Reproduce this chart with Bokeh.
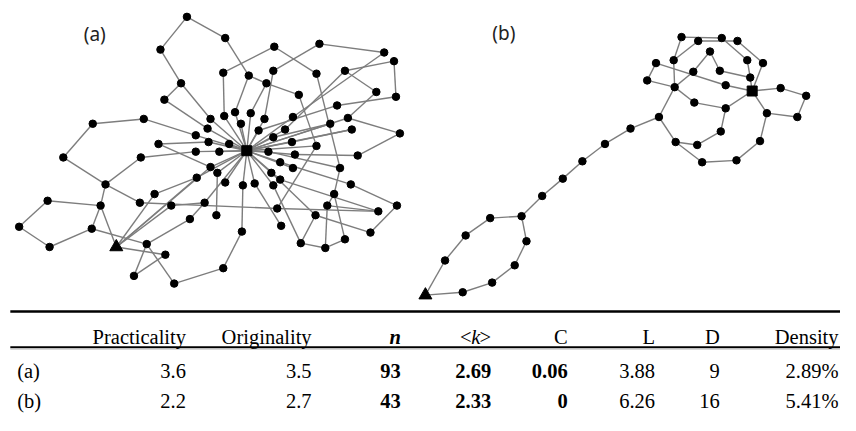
from bokeh.plotting import figure
from bokeh.models import Range1d
from bokeh.embed import file_html
from bokeh.resources import INLINE
from bokeh.core.properties import value

# ---------------- Network (a): node positions (picture coordinates) ----------------
a_nodes = {
    1: (190, 17), 2: (229, 39), 3: (163, 51), 4: (279, 48), 5: (325, 45), 6: (391, 54),
    7: (401, 63), 8: (227, 75), 9: (253, 78), 10: (278, 73), 11: (322, 76), 12: (351, 73),
    13: (271, 86), 14: (184, 86), 15: (167, 103), 16: (304, 98), 17: (383, 95), 18: (403, 100),
    19: (343, 109), 20: (228, 120), 21: (239, 116), 22: (255, 117), 23: (214, 123), 24: (269, 123),
    25: (298, 121), 26: (354, 122), 27: (146, 123), 28: (94, 128), 29: (211, 133), 30: (245, 128),
    31: (263, 135), 32: (290, 134), 33: (336, 128), 34: (358, 134), 35: (199, 140), 36: (212, 147),
    37: (233, 149), 38: (278, 142), 39: (297, 147), 40: (407, 138), 41: (161, 149), 42: (322, 151),
    43: (199, 157), 44: (223, 157), 45: (273, 157), 46: (300, 160), 47: (364, 161), 48: (64, 163),
    49: (143, 163), 50: (285, 168), 51: (214, 173), 52: (298, 174), 53: (346, 174), 54: (221, 179),
    55: (276, 179), 56: (200, 184), 57: (285, 186), 58: (229, 189), 59: (247, 192), 60: (259, 190),
    61: (278, 192), 62: (357, 191), 63: (107, 191), 64: (157, 201), 65: (340, 201), 66: (48, 208),
    67: (102, 213), 68: (142, 210), 69: (174, 213), 70: (208, 210), 71: (282, 216), 72: (333, 213),
    73: (385, 219), 74: (404, 213), 75: (220, 223), 76: (321, 223), 77: (193, 227), 78: (19, 235),
    79: (93, 237), 80: (286, 234), 81: (246, 240), 82: (377, 241), 83: (149, 253), 84: (50, 256),
    85: (306, 252), 86: (331, 257), 87: (351, 248), 88: (168, 264), 89: (136, 286), 90: (227, 278),
    91: (177, 294),
    "H": (251, 156),   # hub (square)
    "T": (118, 256),   # start node (triangle)
}
a_hub_spokes = [20, 21, 22, 23, 24, 25, 29, 30, 31, 32, 33, 34, 35, 36, 37, 38, 39, 43, 44,
                45, 46, 50, 51, 52, 54, 55, 56, 57, 58, 59, 60, 61, 42, 26, 70]
a_edges = [
    (3, 1), (1, 2), (2, 9), (9, 13), (13, 16), (9, 21), (13, 22), (3, 14), (14, 15), (14, 23),
    (15, 29), (8, 20), (8, 4), (4, 11), (5, 10), (10, 24), (5, 6), (6, 25), (7, 12), (7, 18),
    (12, 17), (12, 32), (18, 19), (19, 31), (17, 26), (26, 40), (40, 47), (47, 46), (34, 39),
    (33, 38), (11, 53), (16, 42), (42, 71), (27, 28), (28, 48), (48, 63), (63, 49), (49, 43),
    (27, 35), (41, 36), (41, 51), (63, 67), (63, 68), (68, 71), (71, 73), (66, 67), (66, 78),
    (78, 84), (84, 79), (79, 67), (79, 83), (67, "T"), ("T", 88), ("T", 64), ("T", 69), ("T", 56),
    ("T", 51), (83, 89), (89, 88), (83, 91), (91, 90), (90, 81), (81, 59), (83, 77), (77, 70),
    (75, 54), (69, 70), (53, 65), (65, 72), (72, 86), (86, 85), (86, 87), (87, 65), (76, 82),
    (76, 85), (74, 82), (72, 73), (57, 73), (50, 62), (62, 74), (45, 53), (60, 80), (61, 85),
    (55, 76), (64, 56),
] + [("H", k) for k in a_hub_spokes]

# ---------------- Network (b) ----------------
b_nodes = {
    1: (694, 38), 2: (711, 42), 3: (735, 39), 4: (751, 42), 5: (723, 53), 6: (686, 62),
    7: (668, 65), 8: (706, 74), 9: (733, 73), 10: (761, 62), 11: (777, 65), 12: (764, 80),
    13: (659, 83), 14: (687, 90), 15: (739, 88), 16: (795, 91), 17: (821, 99), 18: (707, 106),
    19: (739, 112), 20: (781, 117), 21: (812, 121), 22: (671, 121), 23: (734, 136), 24: (642, 133),
    25: (688, 147), 26: (710, 150), 27: (774, 146), 28: (616, 149), 29: (715, 168), 30: (750, 166),
    31: (593, 167), 32: (573, 185), 33: (552, 203), 34: (531, 224), 35: (499, 226), 36: (474, 244),
    37: (536, 250), 38: (453, 270), 39: (524, 275), 40: (501, 293), 41: (471, 303),
    "H": (766, 94),
    "T": (433, 306),
}
b_edges = [
    ("T", 38), (38, 36), (36, 35), (35, 34), (34, 37), (37, 39), (39, 40), (40, 41), (41, "T"),
    (34, 33), (33, 32), (32, 31), (31, 28), (28, 24), (24, 22), (22, 14), (22, 25), (25, 26),
    (26, 23), (23, 19), (19, 18), (18, 14), (19, "H"), (25, 29), (29, 30), (30, 27), (27, 20),
    (20, "H"), (20, 21), (21, 17), (17, 16), (16, "H"), (14, 13), (13, 7), (7, 15), (15, "H"),
    (14, 8), (8, 5), (5, 9), (9, 12), (12, "H"), (1, 6), (6, 14), (1, 3), (3, 10), (10, 12),
    (2, 4), (4, 11), (11, "H"), (2, 6),
]

# ---------------- Table ----------------
table_cols = ["Practicality", "Originality", "n", "<k>", "C", "L", "D", "Density"]
row_labels = ["(a)", "(b)"]
practicality = [3.6, 2.2]
originality = [3.5, 2.7]
n_nodes = [93, 43]
mean_degree = [2.69, 2.33]
clustering = [0.06, 0]
path_length = [3.88, 6.26]
diameter = [9, 16]
density_pct = [2.89, 5.41]

# ---------------- Figure ----------------
W, H = 840, 415
REF_W, REF_H = 856, 431
p = figure(width=W, height=H, output_backend="svg", toolbar_location=None,
           x_range=Range1d(0, REF_W), y_range=Range1d(REF_H, 0),
           x_axis_type=None, y_axis_type=None, min_border=0)
p.grid.visible = False
p.outline_line_color = None
p.background_fill_color = "white"

EDGE_COLOR = "#7d7d7d"


def draw_network(nodes, edges):
    x0, y0, x1, y1 = [], [], [], []
    for a, b in edges:
        x0.append(nodes[a][0]); y0.append(nodes[a][1])
        x1.append(nodes[b][0]); y1.append(nodes[b][1])
    p.segment(x0=x0, y0=y0, x1=x1, y1=y1, line_color=EDGE_COLOR, line_width=1.4)
    ids = [k for k in nodes if k not in ("H", "T")]
    p.scatter([nodes[k][0] for k in ids], [nodes[k][1] for k in ids],
              marker="circle", size=7.5, color="black")
    p.scatter([nodes["H"][0]], [nodes["H"][1]], marker="square", size=10, color="black")
    p.scatter([nodes["T"][0]], [nodes["T"][1]], marker="triangle", size=13, color="black")


draw_network(a_nodes, a_edges)
draw_network(b_nodes, b_edges)

# panel labels
p.text(x=[96, 513], y=[35, 34], text=["(a)", "(b)"], text_align="center",
       text_baseline="middle", text_font=value("Noto Sans"), text_font_size="19px",
       text_color="#222222")

# table rules
p.segment(x0=[10], y0=[323], x1=[REF_W], y1=[323], line_color="black", line_width=2.5)
p.segment(x0=[10], y0=[360], x1=[REF_W], y1=[360], line_color="black", line_width=2)
p.segment(x0=[10], y0=[362], x1=[REF_W], y1=[362], line_color="#bbbbbb", line_width=1)

SERIF = value("Liberation Serif")
FS = "20.5px"
col_right = [189, 317, 408, 500, 578, 667, 733, 854]
header_base = 349
row_base = [385, 416]

# header
for j, name in enumerate(table_cols):
    if name == "n":
        p.text(x=[col_right[j]], y=[header_base], text=[name], text_align="right",
               text_baseline="alphabetic", text_font=SERIF, text_font_size=FS,
               text_font_style="bold italic")
    elif name == "<k>":
        p.text(x=[col_right[j]], y=[header_base], text=[">"], text_align="right",
               text_baseline="alphabetic", text_font=SERIF, text_font_size=FS)
        p.text(x=[col_right[j] - 11], y=[header_base], text=["k"], text_align="right",
               text_baseline="alphabetic", text_font=SERIF, text_font_size=FS,
               text_font_style="italic")
        p.text(x=[col_right[j] - 20], y=[header_base], text=["<"], text_align="right",
               text_baseline="alphabetic", text_font=SERIF, text_font_size=FS)
    else:
        p.text(x=[col_right[j]], y=[header_base], text=[name], text_align="right",
               text_baseline="alphabetic", text_font=SERIF, text_font_size=FS)

# rows
p.text(x=[17, 17], y=row_base, text=row_labels, text_align="left",
       text_baseline="alphabetic", text_font=SERIF, text_font_size=FS)

columns = [
    ([str(v) for v in practicality], "normal"),
    ([str(v) for v in originality], "normal"),
    ([str(v) for v in n_nodes], "bold"),
    ([f"{v:.2f}" for v in mean_degree], "bold"),
    ([("0" if v == 0 else f"{v:.2f}") for v in clustering], "bold"),
    ([f"{v:.2f}" for v in path_length], "normal"),
    ([str(v) for v in diameter], "normal"),
    ([f"{v:.2f}%" for v in density_pct], "normal"),
]
for j, (vals, style) in enumerate(columns):
    p.text(x=[col_right[j]] * len(vals), y=row_base, text=vals, text_align="right",
           text_baseline="alphabetic", text_font=SERIF, text_font_size=FS,
           text_font_style=style)

open("out.html", "w").write(file_html(p, INLINE))
